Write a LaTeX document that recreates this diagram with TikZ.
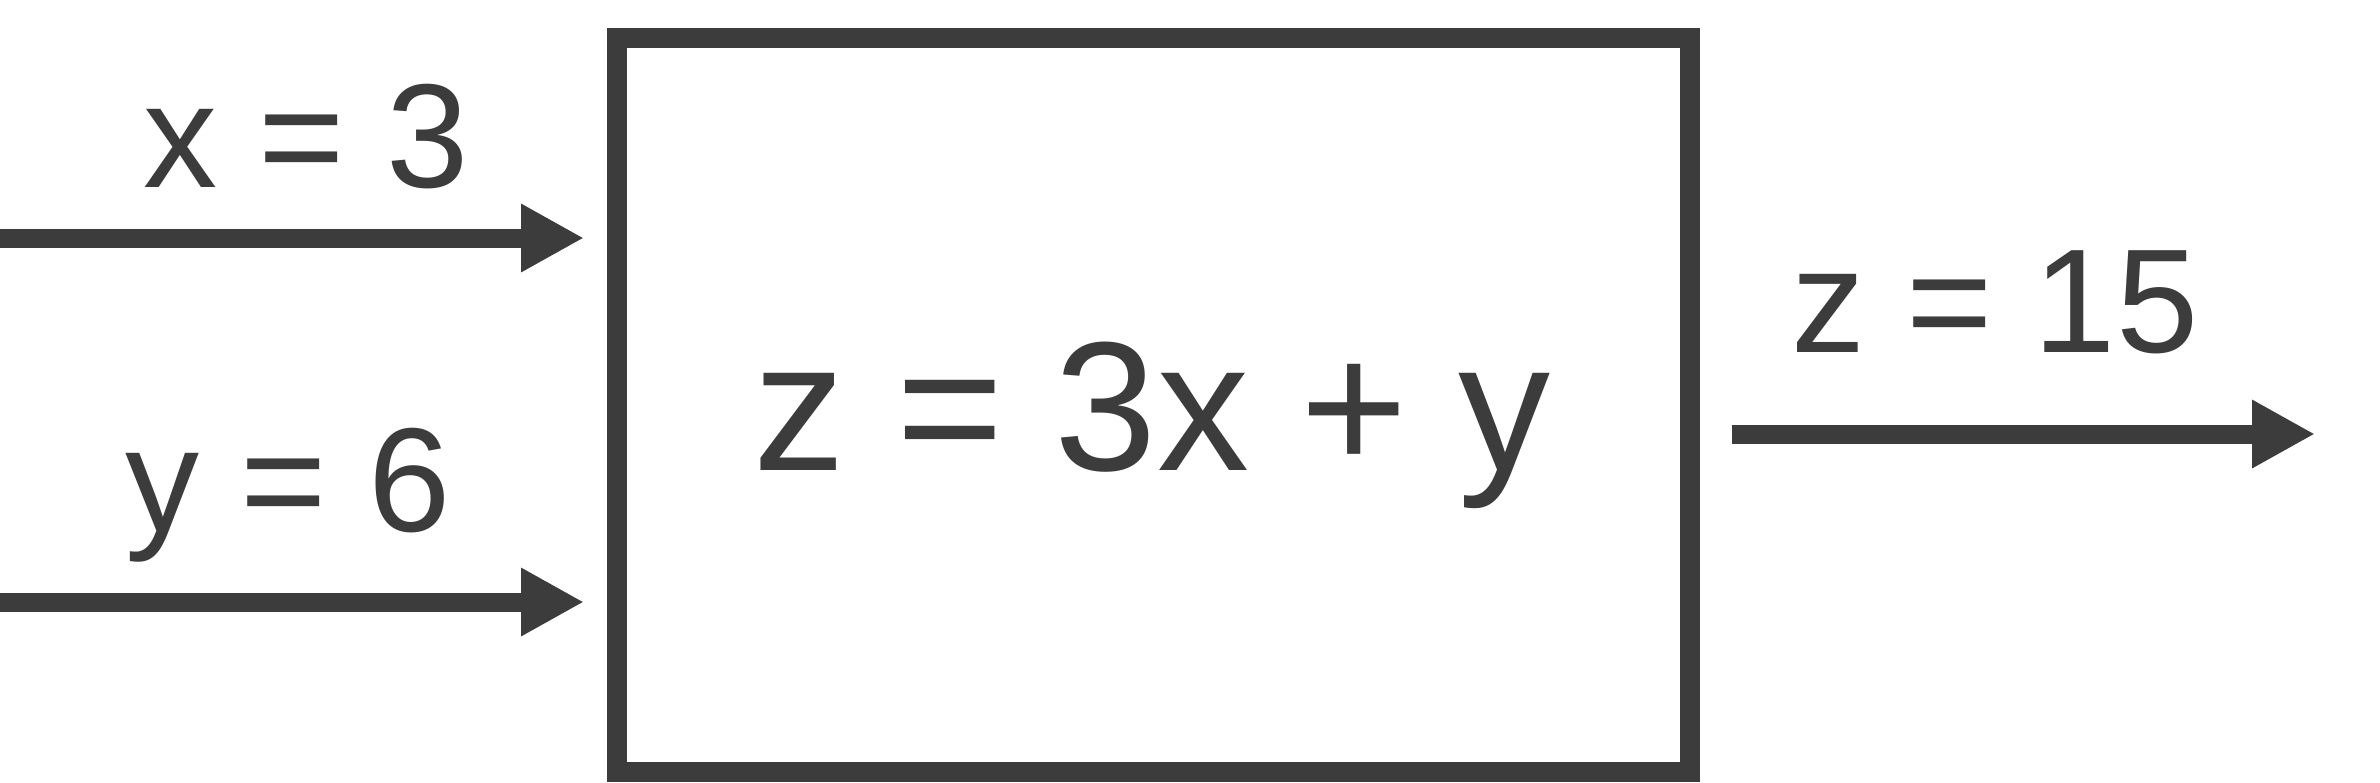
\documentclass[tikz,border=0pt]{standalone}
\usepackage{fontspec}
\setmainfont{Liberation Sans}
\usetikzlibrary{arrows.meta}
\definecolor{ink}{HTML}{3C3C3C}
\begin{document}
\begin{tikzpicture}[x=1pt,y=-1pt,
  boxstyle/.style={draw=ink,line width=20pt,minimum width=1073pt,minimum height=734pt,inner sep=0pt,outer sep=0pt},
  arr/.style={draw=ink,line width=19pt,-{Triangle[length=63pt,width=64pt]}},
  lbl/.style={text=ink,anchor=base,inner sep=0pt,font=\fontsize{148}{170}\selectfont},
  big/.style={text=ink,anchor=base,inner sep=0pt,font=\fontsize{184}{210}\selectfont}]
\useasboundingbox (0,0) rectangle (2380,782);
\node[boxstyle] (box) at (1153.5,405) {};
\node[big] (eq) at (1152,470) {z = 3x + y};
\node[lbl] (lx) at (306,187) {x = 3};
\node[lbl] (ly) at (288,531) {y = 6};
\node[lbl] (lz) at (1995,352) {z = 15};
\coordinate (a1s) at (0,238);
\coordinate (a1e) at (584,238);
\coordinate (a2s) at (0,602);
\coordinate (a2e) at (584,602);
\coordinate (a3s) at (1732,434);
\coordinate (a3e) at (2315,434);
\draw[arr] (a1s) -- (a1e);
\draw[arr] (a2s) -- (a2e);
\draw[arr] (a3s) -- (a3e);
\end{tikzpicture}
\end{document}
